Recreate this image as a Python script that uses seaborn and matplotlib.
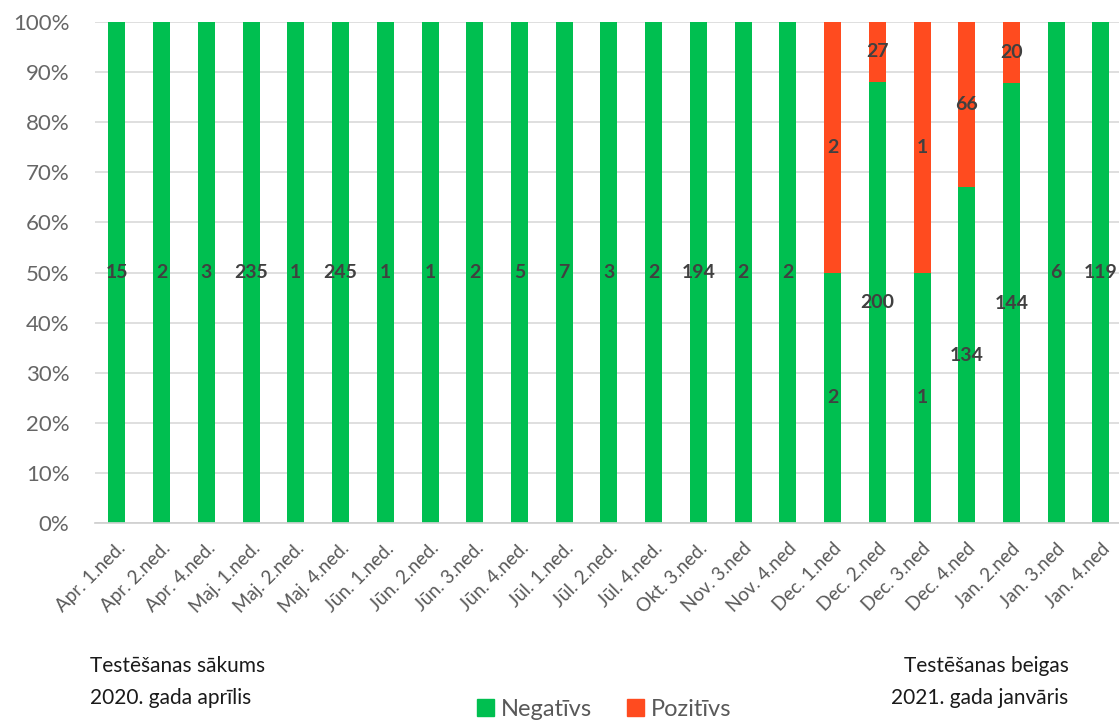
import pandas as pd
import matplotlib.pyplot as plt
import seaborn as sns

weeks = ['Apr. 1.ned.', 'Apr. 2.ned.', 'Apr. 4.ned.', 'Maj. 1.ned.', 'Maj. 2.ned.', 'Maj. 4.ned.',
         'Jūn. 1.ned.', 'Jūn. 2.ned.', 'Jūn. 3.ned.', 'Jūn. 4.ned.', 'Jūl. 1.ned.', 'Jūl. 2.ned.',
         'Jūl. 4.ned.', 'Okt. 3.ned.', 'Nov. 3.ned', 'Nov. 4.ned', 'Dec. 1.ned', 'Dec. 2.ned',
         'Dec. 3.ned', 'Dec. 4.ned', 'Jan. 2.ned', 'Jan. 3.ned', 'Jan. 4.ned']
negative = [15, 2, 3, 235, 1, 245, 1, 1, 2, 5, 7, 3, 2, 194, 2, 2, 2, 200, 1, 134, 144, 6, 119]
positive = [0, 0, 0, 0, 0, 0, 0, 0, 0, 0, 0, 0, 0, 0, 0, 0, 2, 27, 1, 66, 20, 0, 0]

GREEN = '#00BF50'
RED = '#FF4B1F'

sns.set_theme(style='white')
plt.rcParams['font.family'] = ['Lato', 'DejaVu Sans']

df = pd.DataFrame({'week': weeks, 'neg': negative, 'pos': positive})
df['total'] = df['neg'] + df['pos']
df['neg_pct'] = df['neg'] / df['total'] * 100
df['all_pct'] = 100.0

fig = plt.figure(figsize=(11.19, 7.24), dpi=100)
ax = fig.add_axes([0.0845, 0.2776, 0.9194, 0.692])

# full bar in red, green share on top of it
sns.barplot(data=df, x='week', y='all_pct', color=RED, width=0.38, saturation=1, linewidth=0, ax=ax)
sns.barplot(data=df, x='week', y='neg_pct', color=GREEN, width=0.38, saturation=1, linewidth=0, ax=ax)

for i, r in df.iterrows():
    ax.text(i, r['neg_pct'] / 2, str(r['neg']), ha='center', va='center',
            fontsize=14, fontweight='bold', color='#404040')
    if r['pos'] > 0:
        ax.text(i, r['neg_pct'] + (100 - r['neg_pct']) / 2, str(r['pos']), ha='center', va='center',
                fontsize=14, fontweight='bold', color='#404040')

ax.set_ylim(0, 100)
ax.set_xlim(-0.5, len(weeks) - 0.5)
ax.set_yticks(range(0, 101, 10))
ax.set_yticklabels([f'{v}%' for v in range(0, 101, 10)], fontsize=16, color='#666666')
ax.set_xticks(range(len(weeks)))
ax.set_xticklabels(weeks, rotation=45, ha='right', rotation_mode='anchor', fontsize=13.5, color='#595959')
ax.set_xticks([i + 0.5 for i in range(-1, len(weeks))], minor=True)
ax.tick_params(axis='x', which='minor', length=8, color='#d0d0d0')
ax.tick_params(axis='x', which='major', length=0, pad=12)
ax.tick_params(axis='y', length=0, pad=18)
ax.yaxis.grid(True, color='#d9d9d9', linewidth=1.2)
ax.set_axisbelow(True)
ax.set_xlabel('')
ax.set_ylabel('')
for s in ['top', 'right', 'left']:
    ax.spines[s].set_visible(False)
ax.spines['bottom'].set_color('#d0d0d0')

fig.text(0.08, 0.08, 'Testēšanas sākums', fontsize=15, color='#1a1a1a', va='center')
fig.text(0.08, 0.036, '2020. gada aprīlis', fontsize=15, color='#1a1a1a', va='center')
fig.text(0.955, 0.08, 'Testēšanas beigas', fontsize=15, color='#1a1a1a', va='center', ha='right')
fig.text(0.955, 0.036, '2021. gada janvāris', fontsize=15, color='#1a1a1a', va='center', ha='right')

handles = [plt.Rectangle((0, 0), 1, 1, color=GREEN), plt.Rectangle((0, 0), 1, 1, color=RED)]
fig.legend(handles, ['Negatīvs', 'Pozitīvs'], loc='center', bbox_to_anchor=(0.54, 0.02), ncol=2,
           frameon=False, fontsize=17, handlelength=0.7, handleheight=0.7, handletextpad=0.3,
           columnspacing=1.5, labelcolor='#595959')

fig.savefig('out.png', dpi=100)
